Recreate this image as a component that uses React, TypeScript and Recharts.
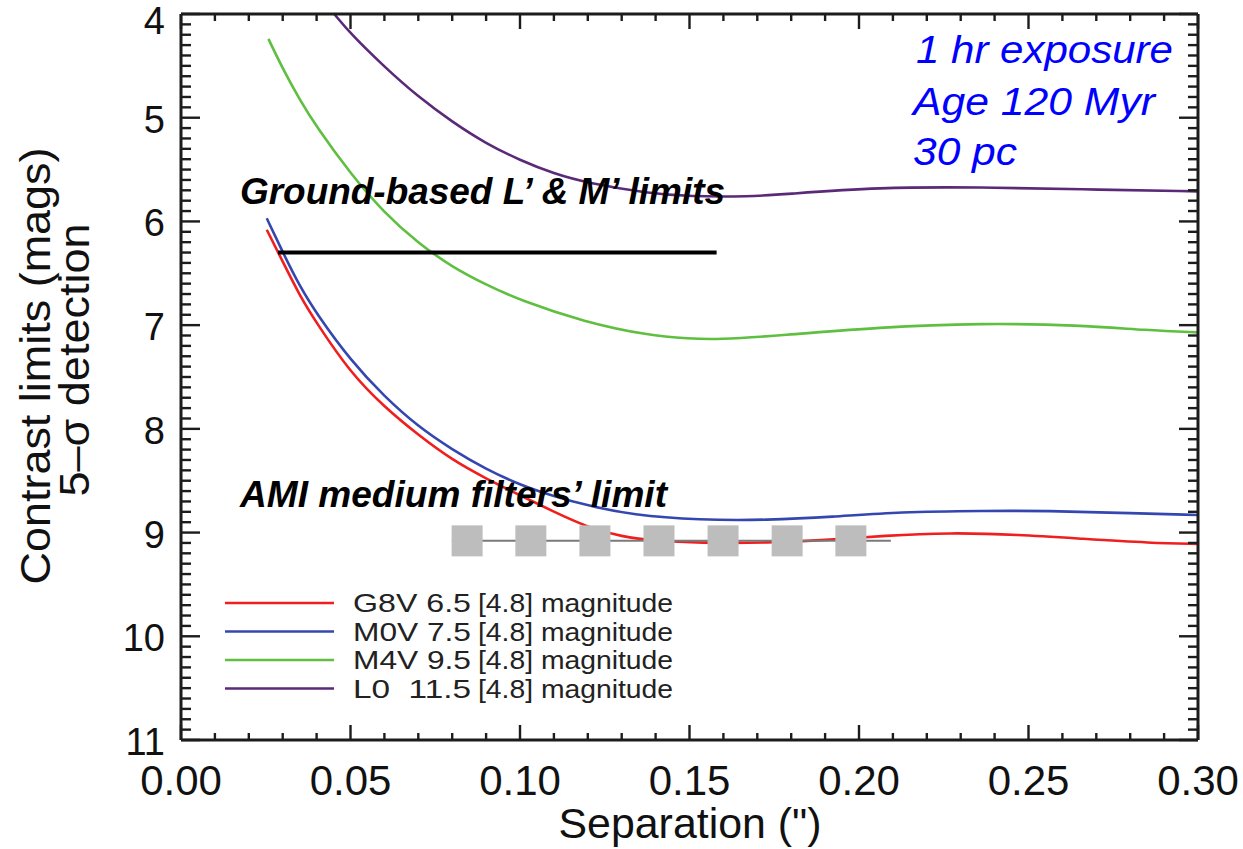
import React from 'react';
import { ComposedChart, Line, Scatter, XAxis, YAxis } from 'recharts';

// separation (") , contrast limit (mag)
const g8v = [
  [0.0253, 6.08], [0.0302, 6.40], [0.0351, 6.72], [0.040, 6.98], [0.050, 7.46], [0.060, 7.79],
  [0.070, 8.06], [0.080, 8.30], [0.090, 8.48], [0.100, 8.64], [0.110, 8.80], [0.120, 8.95],
  [0.130, 9.04], [0.140, 9.08], [0.153, 9.10], [0.173, 9.10], [0.192, 9.07], [0.207, 9.03],
  [0.227, 9.00], [0.247, 9.02], [0.266, 9.06], [0.286, 9.10], [0.300, 9.11],
];
const m0v = [
  [0.0253, 5.97], [0.0302, 6.31], [0.0351, 6.63], [0.040, 6.89], [0.050, 7.34], [0.060, 7.69],
  [0.070, 7.98], [0.080, 8.20], [0.090, 8.39], [0.100, 8.54], [0.110, 8.65], [0.120, 8.74],
  [0.133, 8.83], [0.153, 8.88], [0.173, 8.88], [0.192, 8.85], [0.212, 8.80], [0.237, 8.79],
  [0.256, 8.79], [0.276, 8.81], [0.300, 8.83],
];
const m4v = [
  [0.0258, 4.24], [0.0302, 4.54], [0.0351, 4.83], [0.040, 5.09], [0.050, 5.54], [0.060, 5.92],
  [0.070, 6.21], [0.080, 6.44], [0.090, 6.61], [0.100, 6.76], [0.119, 6.97], [0.138, 7.10],
  [0.150, 7.13], [0.158, 7.14], [0.177, 7.10], [0.206, 7.02], [0.236, 6.98], [0.265, 7.00],
  [0.285, 7.05], [0.300, 7.07],
];
const l0 = [
  [0.0452, 4.00], [0.050, 4.19], [0.060, 4.51], [0.070, 4.80], [0.080, 5.04], [0.090, 5.25],
  [0.100, 5.41], [0.110, 5.54], [0.120, 5.63], [0.138, 5.73], [0.150, 5.76], [0.168, 5.76],
  [0.177, 5.74], [0.206, 5.67], [0.236, 5.67], [0.265, 5.69], [0.300, 5.71],
];

// ground-based L'/M' limit and AMI medium filter limit
const groundLimit = [[0.0286, 6.30], [0.158, 6.30]];
const amiLimit = [[0.0799, 9.08], [0.2094, 9.08]];
const amiMarkers = [0.0844, 0.1032, 0.1221, 0.1410, 0.1599, 0.1788, 0.1976];
const amiMarkerMag = 9.08;

const legendNames = ['G8V 6.5', 'M0V 7.5', 'M4V 9.5', 'L0  11.5'];
const legendSuffix = '[4.8] magnitude';
const colors = ['#f01e1e', '#3447b0', '#5fbf40', '#5a2a78'];

const xMajorTicks = [0, 0.05, 0.1, 0.15, 0.2, 0.25, 0.3];
const yMajorTicks = [4, 5, 6, 7, 8, 9, 10, 11];
const xTicks = Array.from({ length: 31 }, (_, i) => i / 100);
const yTicks = Array.from({ length: 71 }, (_, i) => Math.round(40 + i) / 10);

const toPts = (arr: number[][]) => arr.map(([x, y]) => ({ x, y }));
const series = [g8v, m0v, m4v, l0].map((d, i) => ({ data: toPts(d), color: colors[i], name: legendNames[i] }));

const AXIS = '#1c1c1c';
const FONT = '"Liberation Sans", Arial, Helvetica, sans-serif';

const near = (list: number[], v: number) => list.some((t) => Math.abs(t - v) < 1e-9);

function XTick(props: any) {
  const { x, y, payload, side } = props;
  const v = payload.value;
  const major = near(xMajorTicks, v);
  const dir = side === 'top' ? 1 : -1;
  const len = major ? 15 : 7;
  return (
    <g>
      <line x1={x} y1={y} x2={x} y2={y + dir * len} stroke={AXIS} strokeWidth={2.4} />
      {side === 'bottom' && major && (
        <text x={x} y={y + 55} textAnchor="middle" fontSize={42} fontFamily={FONT} fill="#111">
          {v.toFixed(2)}
        </text>
      )}
    </g>
  );
}

function YTick(props: any) {
  const { x, y, payload, side } = props;
  const v = payload.value;
  const major = near(yMajorTicks, v);
  const dir = side === 'left' ? 1 : -1;
  const len = major ? 19 : 10;
  // keep the top label inside the page
  const base = Math.max(y + 15, 34);
  return (
    <g>
      <line x1={x} y1={y} x2={x + dir * len} y2={y} stroke={AXIS} strokeWidth={2.4} />
      {side === 'left' && major && (
        <text x={x - 16} y={base} textAnchor="end" fontSize={38} fontFamily={FONT} fill="#111">
          {v}
        </text>
      )}
    </g>
  );
}

const Square = (props: any) => {
  const { cx, cy } = props;
  return <rect x={cx - 15.5} y={cy - 15.5} width={31} height={31} fill="#bdbdbd" />;
};

export default function App() {
  return (
    <div style={{ position: 'absolute', left: 0, top: 0, width: 1243, height: 849, background: '#fff' }}>
      <ComposedChart width={1243} height={849} margin={{ top: 0, right: 0, bottom: 0, left: 0 }}>
        <XAxis
          xAxisId="b" dataKey="x" type="number" domain={[0, 0.3]} ticks={xTicks} interval={0}
          orientation="bottom" height={109} tickSize={0} tickMargin={0} tickLine={false}
          axisLine={{ stroke: AXIS, strokeWidth: 3 }} tick={<XTick side="bottom" />} allowDataOverflow
        />
        <XAxis
          xAxisId="t" dataKey="x" type="number" domain={[0, 0.3]} ticks={xTicks} interval={0}
          orientation="top" height={14} tickSize={0} tickMargin={0} tickLine={false}
          axisLine={{ stroke: AXIS, strokeWidth: 3 }} tick={<XTick side="top" />} allowDataOverflow
        />
        <YAxis
          yAxisId="l" dataKey="y" type="number" domain={[4, 11]} reversed ticks={yTicks} interval={0}
          orientation="left" width={181} tickSize={0} tickMargin={0} tickLine={false}
          axisLine={{ stroke: AXIS, strokeWidth: 3 }} tick={<YTick side="left" />} allowDataOverflow
        />
        <YAxis
          yAxisId="r" dataKey="y" type="number" domain={[4, 11]} reversed ticks={yTicks} interval={0}
          orientation="right" width={45} tickSize={0} tickMargin={0} tickLine={false}
          axisLine={{ stroke: AXIS, strokeWidth: 3 }} tick={<YTick side="right" />} allowDataOverflow
        />
        {series.map((s) => (
          <Line
            key={s.name} xAxisId="b" yAxisId="l" data={s.data} dataKey="y" type="basis"
            stroke={s.color} strokeWidth={2.6} dot={false} activeDot={false} isAnimationActive={false}
          />
        ))}
        <Line
          xAxisId="b" yAxisId="l" data={toPts(groundLimit)} dataKey="y" type="linear"
          stroke="#000" strokeWidth={4} dot={false} activeDot={false} isAnimationActive={false}
        />
        <Line
          xAxisId="b" yAxisId="l" data={toPts(amiLimit)} dataKey="y" type="linear"
          stroke="#7a7a7a" strokeWidth={2} dot={false} activeDot={false} isAnimationActive={false}
        />
        <Scatter
          xAxisId="b" yAxisId="l" data={amiMarkers.map((x) => ({ x, y: amiMarkerMag }))} dataKey="y"
          shape={<Square />} isAnimationActive={false}
        />
      </ComposedChart>

      <svg
        width={1243} height={849}
        style={{ position: 'absolute', left: 0, top: 0, pointerEvents: 'none' }}
        fontFamily={FONT}
      >
        <text x={240} y={204} fontSize={36} fontWeight="bold" fontStyle="italic" fill="#000"
          textLength={485} lengthAdjust="spacingAndGlyphs">
          Ground-based L’ &amp; M’ limits
        </text>
        <text x={240} y={507} fontSize={36} fontWeight="bold" fontStyle="italic" fill="#000"
          textLength={427} lengthAdjust="spacingAndGlyphs">
          AMI medium filters’ limit
        </text>

        <g fill="#0000ff" fontSize={38} fontStyle="italic">
          <text x={916} y={63} textLength={257} lengthAdjust="spacingAndGlyphs">1 hr exposure</text>
          <text x={913} y={115} textLength={242} lengthAdjust="spacingAndGlyphs">Age 120 Myr</text>
          <text x={913} y={165} textLength={104} lengthAdjust="spacingAndGlyphs">30 pc</text>
        </g>

        {series.map((s, i) => {
          const cy = 603 + i * 28.5;
          return (
            <g key={s.name}>
              <line x1={225} x2={334} y1={cy} y2={cy} stroke={s.color} strokeWidth={2.6} />
              <text x={353} y={cy + 9} fontSize={25} fill="#222" style={{ whiteSpace: 'pre' }}
                textLength={118} lengthAdjust="spacingAndGlyphs">
                {s.name}
              </text>
              <text x={478} y={cy + 9} fontSize={25} fill="#222" textLength={195} lengthAdjust="spacingAndGlyphs">
                {legendSuffix}
              </text>
            </g>
          );
        })}

        <text x={690} y={838} fontSize={42} fill="#111" textAnchor="middle" textLength={263}
          lengthAdjust="spacingAndGlyphs">
          Separation (")
        </text>
        <text transform="translate(50,366) rotate(-90)" fontSize={42} fill="#111" textAnchor="middle"
          textLength={437} lengthAdjust="spacingAndGlyphs">
          Contrast limits (mags)
        </text>
        <text transform="translate(89,360) rotate(-90)" fontSize={42} fill="#111" textAnchor="middle"
          textLength={273} lengthAdjust="spacingAndGlyphs">
          5–σ detection
        </text>
      </svg>
    </div>
  );
}
